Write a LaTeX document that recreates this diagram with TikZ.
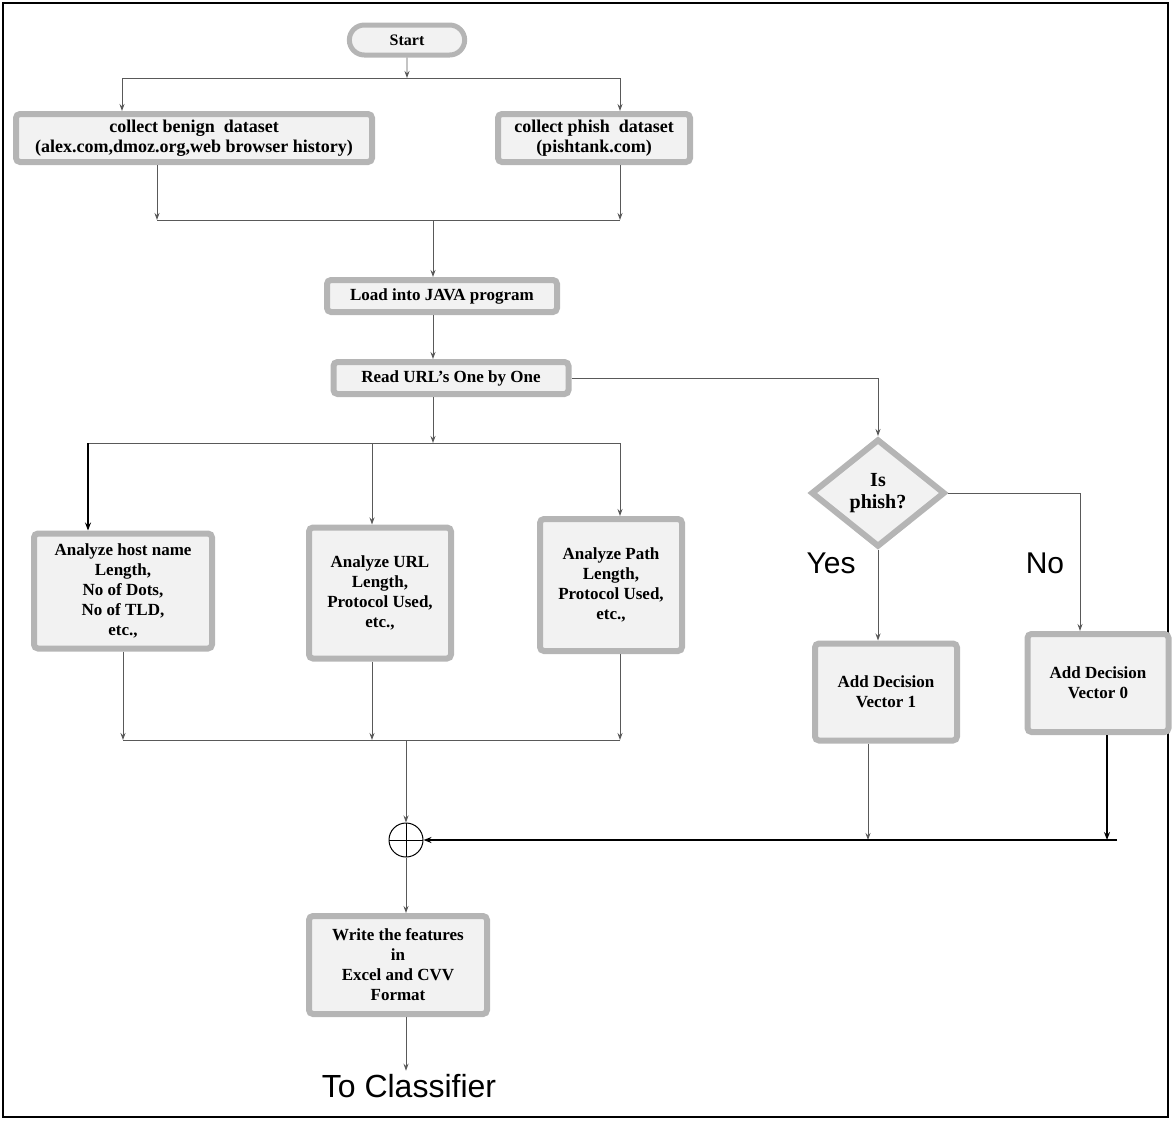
\documentclass[tikz,border=0pt]{standalone}
\usepackage{fontspec}
\setmainfont{Liberation Serif}
\newfontfamily\labelfont{Liberation Sans}
\usetikzlibrary{arrows.meta,shapes.geometric,shapes.misc}

\tikzset{
  stepbox/.style={rectangle, rounded corners=4pt, draw=gray!58, line width=6pt, fill=gray!10,
    align=center, inner sep=2pt, font=\bfseries\fontsize{17}{20}\selectfont},
  flow/.style={draw=black!65, line width=0.9pt},
  arr/.style={flow, -{Stealth[length=7pt,width=5pt]}},
  darr/.style={draw=black, line width=1.6pt, -{Stealth[length=8pt,width=6pt]}},
  biglabel/.style={font=\labelfont\fontsize{30}{34}\selectfont}
}

\begin{document}
\begin{tikzpicture}[x=1pt,y=-1pt]
            \useasboundingbox (0,0) rectangle (1172,1120);
            \draw[line width=2.5pt] (3,3) rectangle (1168,1117);

            \node[rounded rectangle, draw=gray!58, line width=5pt, fill=gray!10, minimum width=122, minimum height=30,
                  font=\bfseries\fontsize{16}{18}\selectfont] (start) at (407,40) {Start};
            \node[stepbox, minimum width=356, minimum height=48, font=\bfseries\fontsize{18}{20}\selectfont] (benign) at (194,138)
                 {collect benign\ \ dataset\\(alex.com,dmoz.org,web browser history)};
            \node[stepbox, minimum width=192, minimum height=48, font=\bfseries\fontsize{18}{20}\selectfont] (phish) at (594,138)
                 {collect phish\ \ dataset\\(pishtank.com)};
            \node[stepbox, minimum width=230, minimum height=32] (load) at (442,296) {Load into JAVA program};
            \node[stepbox, minimum width=235, minimum height=32] (read) at (451,378) {Read URL's One by One};

            \node[stepbox, minimum width=178, minimum height=115] (host) at (123,591)
                 {Analyze host name\\Length,\\No of Dots,\\No of TLD,\\etc.,};
            \node[stepbox, minimum width=142, minimum height=131] (url) at (380,593)
                 {Analyze URL\\Length,\\Protocol Used,\\etc.,};
            \node[stepbox, minimum width=142, minimum height=132] (path) at (611,585)
                 {Analyze Path\\Length,\\Protocol Used,\\etc.,};

            \node[diamond, draw=gray!58, line width=6pt, fill=gray!10, minimum width=134, minimum height=108, inner sep=0pt,
                  align=center, font=\bfseries\fontsize{20}{22}\selectfont] (decide) at (878,493) {Is\\phish?};
            \node[stepbox, minimum width=142, minimum height=97] (vecone) at (886,692) {Add Decision\\Vector 1};
            \node[stepbox, minimum width=141, minimum height=98] (veczero) at (1098,683) {Add Decision\\Vector 0};
            \node[biglabel] (yes) at (831,563) {Yes};
            \node[biglabel] (no) at (1045,563) {No};

            \node[circle, draw=black, line width=1pt, minimum size=34, inner sep=0pt,
                  path picture={\draw[line width=1pt] (path picture bounding box.north) -- (path picture bounding box.south)
                                (path picture bounding box.west) -- (path picture bounding box.east);}] (sum) at (406,840) {};
            \node[stepbox, minimum width=178, minimum height=98] (write) at (398,965)
                 {Write the features\\in\\Excel and CVV\\Format};
            \node[font=\labelfont\fontsize{32}{36}\selectfont] (classifier) at (409,1086) {To Classifier};

            \coordinate (splitA) at (407,78);
            \coordinate (splitAl) at (122,78);
            \coordinate (splitAr) at (620,78);
            \coordinate (mergeB) at (433,220);
            \coordinate (mergeBl) at (157,220);
            \coordinate (mergeBr) at (620,220);
            \coordinate (splitC) at (433,443);
            \coordinate (splitCl) at (88,443);
            \coordinate (splitCm) at (372,443);
            \coordinate (splitCr) at (620,443);
            \coordinate (mergeD) at (406,740);
            \coordinate (mergeDl) at (123,740);
            \coordinate (mergeDm) at (372,740);
            \coordinate (mergeDr) at (620,740);
            \coordinate (noturn) at (1080,493);
            \coordinate (joinone) at (868,840);
            \coordinate (joinzero) at (1107,840);
            \coordinate (joinend) at (1117,840);

            \draw[arr] (start) -- (splitA);
            \draw[flow] (splitAl) -- (splitAr);
            \draw[arr] (splitAl) -- (splitAl |- benign.north);
            \draw[arr] (splitAr) -- (splitAr |- phish.north);

            \draw[arr] (benign.south -| mergeBl) -- (mergeBl);
            \draw[arr] (phish.south -| mergeBr) -- (mergeBr);
            \draw[flow] (mergeBl) -- (mergeBr);
            \draw[arr] (mergeB) -- (mergeB |- load.north);
            \draw[arr] (load.south -| mergeB) -- (read.north -| mergeB);
            \draw[arr] (read.south -| splitC) -- (splitC);
            \draw[arr] (read.east) -| (decide.north);

            \draw[flow] (splitCl) -- (splitCr);
            \draw[darr, line width=1.2pt] (splitCl) -- (splitCl |- host.north);
            \draw[arr] (splitCm) -- (splitCm |- url.north);
            \draw[arr] (splitCr) -- (splitCr |- path.north);

            \draw[arr] (host.south -| mergeDl) -- (mergeDl);
            \draw[arr] (url.south -| mergeDm) -- (mergeDm);
            \draw[arr] (path.south -| mergeDr) -- (mergeDr);
            \draw[flow] (mergeDl) -- (mergeDr);
            \draw[arr] (mergeD) -- (sum.north);

            \draw[arr] (decide.south) -- (decide.south |- vecone.north);
            \draw[arr] (decide.east) -- (noturn) -- (noturn |- veczero.north);
            \draw[arr] (vecone.south -| joinone) -- (joinone);
            \draw[darr] (veczero.south -| joinzero) -- (joinzero);
            \draw[darr] (joinend) -- (sum.east);

            \draw[arr] (sum.south) -- (sum.south |- write.north);
            \draw[arr] (write.south -| sum.south) -- (classifier.north -| sum.south);

        \end{tikzpicture}
\end{document}
